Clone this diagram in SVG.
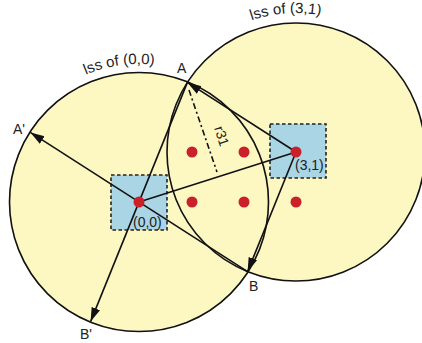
<svg xmlns="http://www.w3.org/2000/svg" width="422" height="343" viewBox="0 0 422 343">
<style>
.lss{fill:#fdf7c2;stroke:none}
.ring{fill:none;stroke:#111;stroke-width:1.6}
.cell{fill:#a9d5e5;stroke:#222;stroke-width:1.6;stroke-dasharray:3.5 2.5}
.dot{fill:#c9202a}
.ln{fill:none;stroke:#111;stroke-width:1.6}
.arr{marker-end:url(#ah)}
.dd{fill:none;stroke:#111;stroke-width:1.6;stroke-dasharray:6 3 2 3}
text{font-family:"Liberation Sans",Arial,sans-serif;fill:#222;font-size:14px}
.big{font-size:15px}
</style>
<defs>
<marker id="ah" markerUnits="userSpaceOnUse" markerWidth="15" markerHeight="10" refX="14" refY="4.5" orient="auto">
<path d="M0,0 L14,4.5 L0,9 z" fill="#111"/>
</marker>
<path id="arc00" d="M1,202 A138,138 0 0 1 277,202"/>
<path id="arc31" d="M157,152 A139,139 0 0 1 435,152"/>
</defs>
<rect width="422" height="343" fill="#fff"/>
<g id="lss-00">
<circle class="lss" cx="139" cy="202" r="129.5"/>
<text class="big"><textPath href="#arc00" startOffset="162">lss of (0,0)</textPath></text>
</g>
<g id="lss-31">
<circle class="lss" cx="296" cy="152" r="129"/>
<text class="big"><textPath href="#arc31" startOffset="173">lss of (3,1)</textPath></text>
</g>
<g id="outlines">
<circle class="ring" cx="139" cy="202" r="129.5"/>
<circle class="ring" cx="296" cy="152" r="129"/>
</g>
<g id="cell-00">
<rect class="cell" x="111" y="175" width="56" height="55"/>
</g>
<g id="cell-31">
<rect class="cell" x="270" y="124" width="56" height="54"/>
</g>
<g id="connectors">
<line class="ln arr" x1="187.4" y1="82.4" x2="90.6" y2="321.6"/>
<line class="ln arr" x1="247.6" y1="271.6" x2="30.4" y2="132.4"/>
<line class="ln" x1="139" y1="202" x2="296" y2="152"/>
<line class="ln arr" x1="296" y1="152" x2="187.4" y2="82.4"/>
<line class="ln arr" x1="296" y1="152" x2="247.6" y2="271.6"/>
<line class="dd" x1="189" y1="90" x2="217" y2="172"/>
</g>
<g id="points">
<circle class="dot" cx="139" cy="202" r="5.5"/>
<circle class="dot" cx="192" cy="202" r="5.5"/>
<circle class="dot" cx="244" cy="202" r="5.5"/>
<circle class="dot" cx="296" cy="202" r="5.5"/>
<circle class="dot" cx="192" cy="152" r="5.5"/>
<circle class="dot" cx="244" cy="152" r="5.5"/>
<circle class="dot" cx="296" cy="152" r="5.5"/>
</g>
<g id="labels">
<text x="177" y="73">A</text>
<text x="13" y="134">A'</text>
<text x="249" y="291">B</text>
<text x="80" y="339">B'</text>
<text x="133" y="227">(0,0)</text>
<text x="295" y="170">(3,1)</text>
<text transform="translate(214,128) rotate(72)" font-size="13">r31</text>
</g>
</svg>
